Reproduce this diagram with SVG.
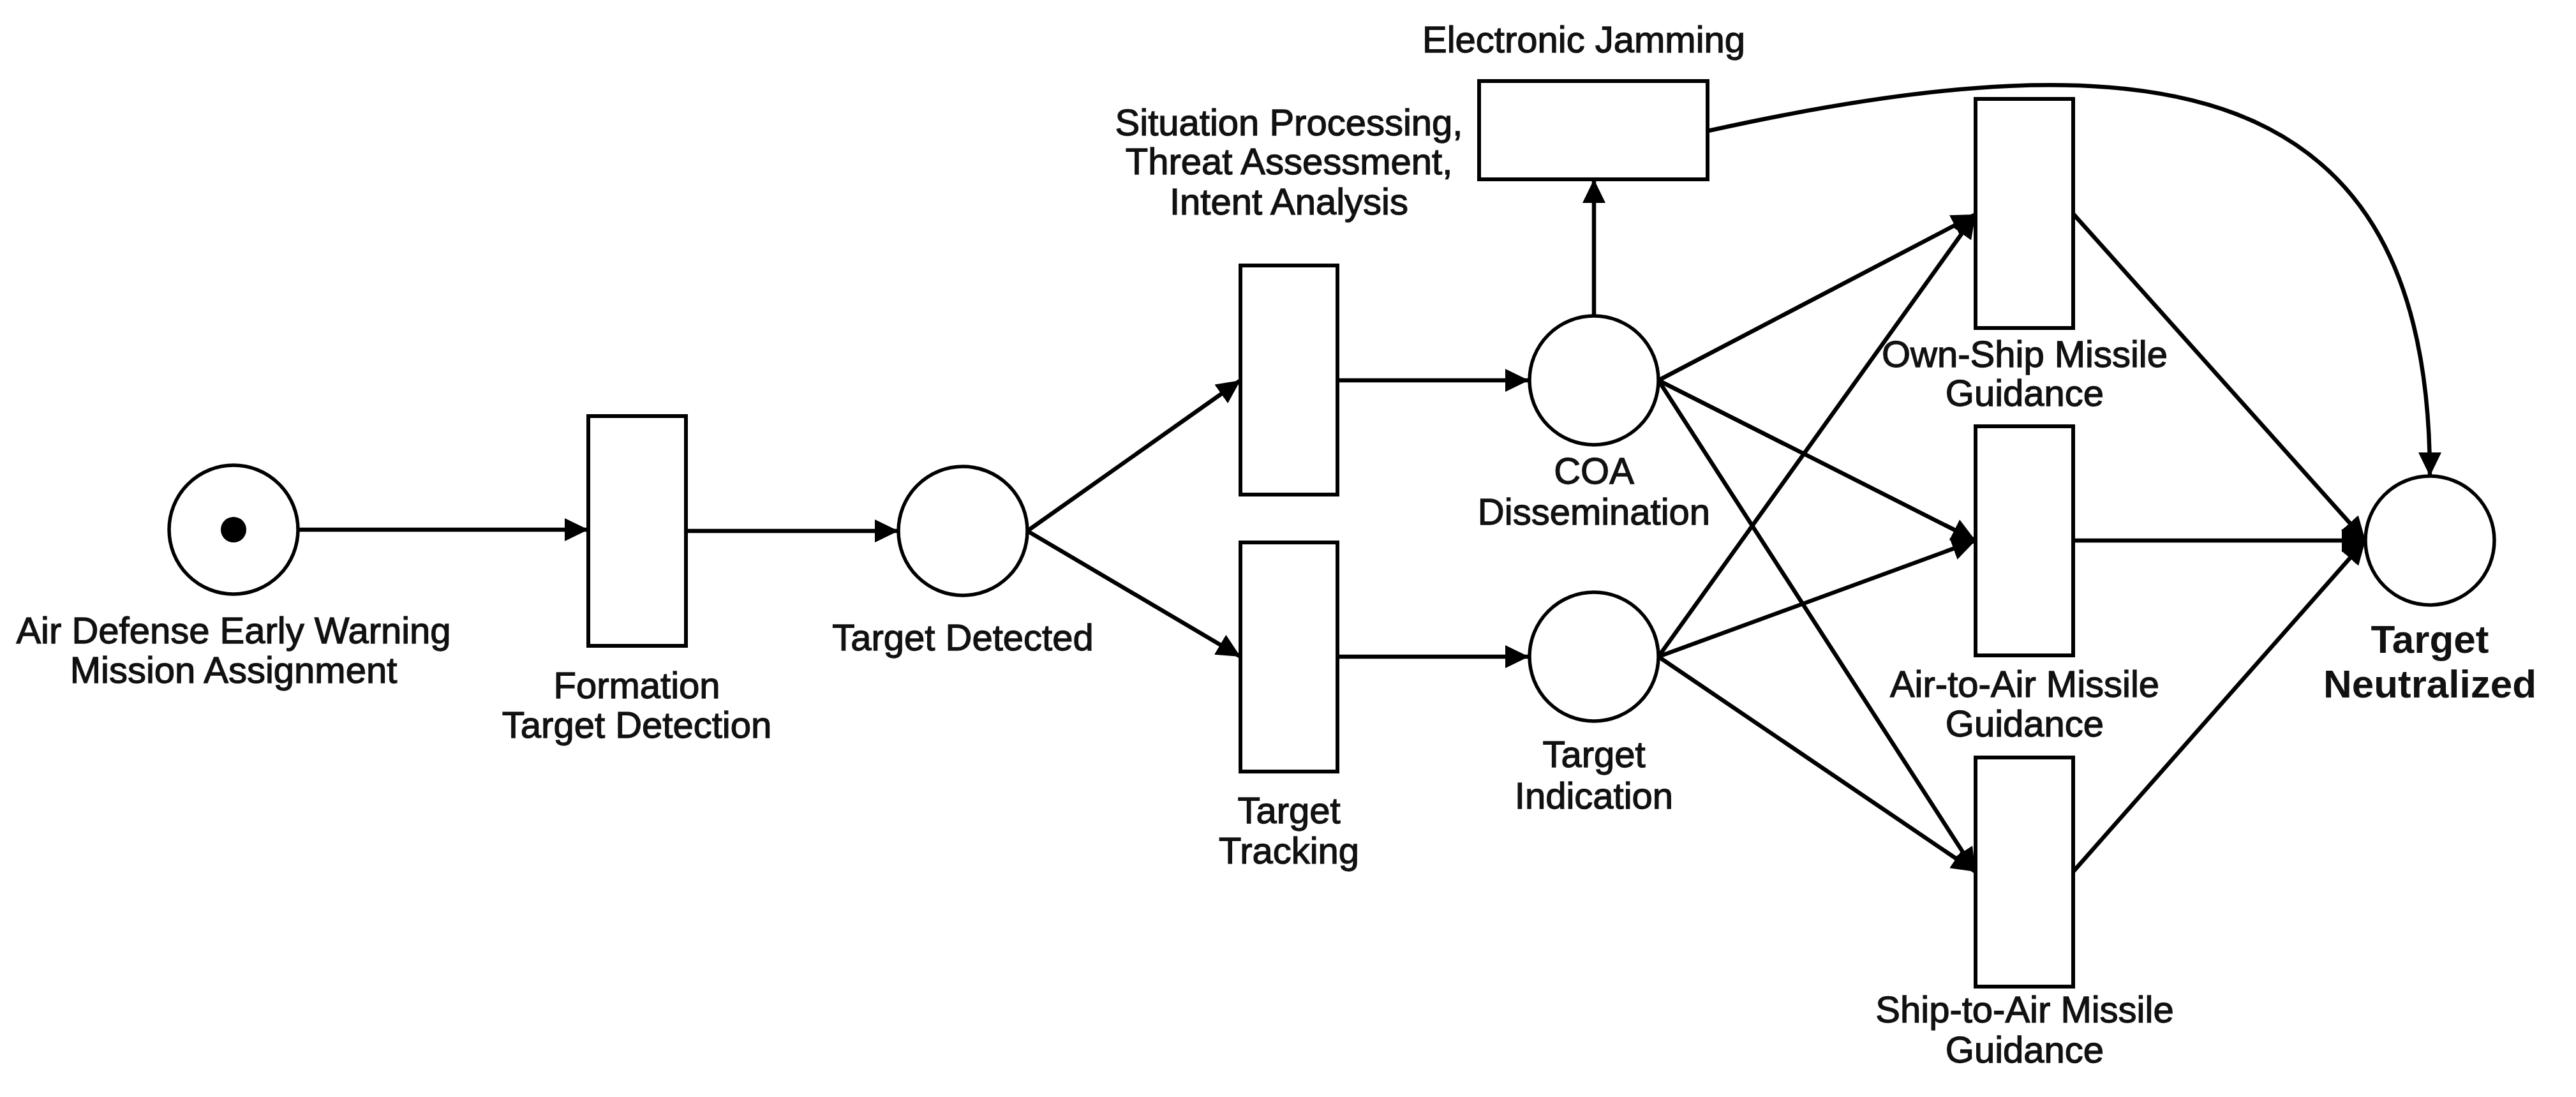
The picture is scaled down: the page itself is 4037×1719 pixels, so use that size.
<svg xmlns="http://www.w3.org/2000/svg" width="4037" height="1719" viewBox="0 0 4037 1719">
<style>
.place{fill:#fff;stroke:#000;stroke-width:5.5}
.trans{fill:#fff;stroke:#000;stroke-width:6}
.lbl{font-family:"Liberation Sans",Arial,sans-serif;font-size:58px;fill:#111;stroke:#111;stroke-width:1.3;text-anchor:middle}
.big{font-family:"Liberation Sans",Arial,sans-serif;font-size:62px;font-weight:bold;fill:#111;text-anchor:middle}
.arc{fill:none;stroke:#000;stroke-width:6.5;marker-end:url(#ah)}
</style>
<defs>
<marker id="ah" markerUnits="userSpaceOnUse" markerWidth="40" markerHeight="38" refX="37" refY="18" orient="auto">
<path d="M0,0 L37,18 L0,36 z" fill="#000"/>
</marker>
</defs>
<rect width="4037" height="1719" fill="#fff"/>
<g id="connectors">
<path class="arc" d="M468,830 L922,830"/>
<path class="arc" d="M1075,832 L1408,832"/>
<path class="arc" d="M1610,832 L1944,596"/>
<path class="arc" d="M1610,832 L1944,1029"/>
<path class="arc" d="M2096,596 L2396,596"/>
<path class="arc" d="M2096,1029 L2396,1029"/>
<path class="arc" d="M2498,495 L2498,281"/>
<path class="arc" d="M2677,205 C3377,50 3808,110 3808,746"/>
<path class="arc" d="M2599,596 L3096,336"/>
<path class="arc" d="M2599,596 L3096,847"/>
<path class="arc" d="M2599,596 L3096,1366"/>
<path class="arc" d="M2599,1029 L3096,336"/>
<path class="arc" d="M2599,1029 L3096,847"/>
<path class="arc" d="M2599,1029 L3096,1366"/>
<path class="arc" d="M3249,335 L3707,847"/>
<path class="arc" d="M3249,847 L3707,847"/>
<path class="arc" d="M3249,1366 L3707,847"/>
</g>
<g id="p-mission">
<circle class="place" cx="366" cy="830" r="101"/>
<circle cx="366" cy="830" r="20" fill="#000"/>
<text class="lbl" x="366" y="1008">Air Defense Early Warning</text>
<text class="lbl" x="366" y="1070">Mission Assignment</text>
</g>
<g id="t-formation">
<rect class="trans" x="922" y="652" width="153" height="360"/>
<text class="lbl" x="998" y="1094">Formation</text>
<text class="lbl" x="998" y="1156">Target Detection</text>
</g>
<g id="p-detected">
<circle class="place" cx="1509" cy="832" r="101"/>
<text class="lbl" x="1509" y="1019">Target Detected</text>
</g>
<g id="t-situation">
<rect class="trans" x="1944" y="416" width="152" height="359"/>
<text class="lbl" x="2020" y="212">Situation Processing,</text>
<text class="lbl" x="2020" y="273">Threat Assessment,</text>
<text class="lbl" x="2020" y="336">Intent Analysis</text>
</g>
<g id="t-tracking">
<rect class="trans" x="1944" y="850" width="152" height="359"/>
<text class="lbl" x="2020" y="1290">Target</text>
<text class="lbl" x="2020" y="1353">Tracking</text>
</g>
<g id="p-coa">
<circle class="place" cx="2498" cy="596" r="101"/>
<text class="lbl" x="2498" y="758">COA</text>
<text class="lbl" x="2498" y="822">Dissemination</text>
</g>
<g id="p-indication">
<circle class="place" cx="2498" cy="1029" r="101"/>
<text class="lbl" x="2498" y="1202">Target</text>
<text class="lbl" x="2498" y="1267">Indication</text>
</g>
<g id="t-jamming">
<rect class="trans" x="2318" y="127" width="358" height="154"/>
<text class="lbl" x="2482" y="82">Electronic Jamming</text>
</g>
<g id="t-ownship">
<rect class="trans" x="3096" y="155" width="153" height="359"/>
<text class="lbl" x="3173" y="575">Own-Ship Missile</text>
<text class="lbl" x="3173" y="636">Guidance</text>
</g>
<g id="t-airtoair">
<rect class="trans" x="3096" y="668" width="153" height="359"/>
<text class="lbl" x="3173" y="1092">Air-to-Air Missile</text>
<text class="lbl" x="3173" y="1154">Guidance</text>
</g>
<g id="t-shiptoair">
<rect class="trans" x="3096" y="1187" width="153" height="359"/>
<text class="lbl" x="3173" y="1602">Ship-to-Air Missile</text>
<text class="lbl" x="3173" y="1665">Guidance</text>
</g>
<g id="p-neutralized">
<circle class="place" cx="3808" cy="847" r="101"/>
<text class="big" x="3808" y="1023">Target</text>
<text class="big" x="3808" y="1093">Neutralized</text>
</g>
</svg>
